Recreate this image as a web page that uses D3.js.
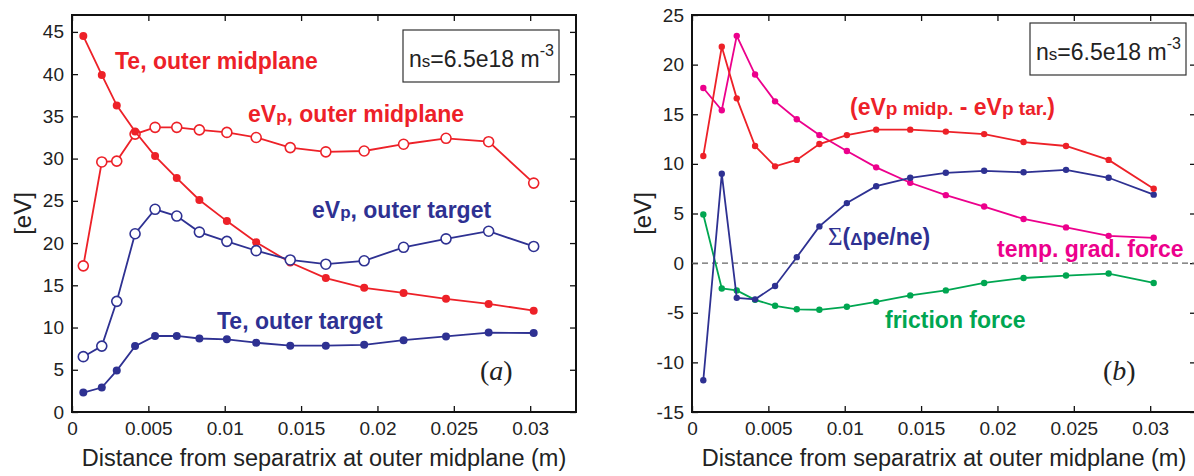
<!DOCTYPE html>
<html>
<head>
<meta charset="utf-8">
<script src="https://cdn.jsdelivr.net/npm/d3@7"></script>
<style>
  body { margin: 0; background: #fff; }
  svg { display: block; }
  .tick text { font-family: Arial, 'Liberation Sans', sans-serif; fill: #222; }
</style>
</head>
<body>
<div id="chart"></div>
<script>
// distance from separatrix (m), same grid for every curve
var xs = [0.00074, 0.00195, 0.00293, 0.00413, 0.00544, 0.00686, 0.00834, 0.01014,
          0.01206, 0.01429, 0.01662, 0.01913, 0.02171, 0.02449, 0.02728, 0.03023];

// panel (a)
var teMid = [44.5, 39.9, 36.3, 33.2, 30.3, 27.7, 25.1, 22.6, 20.1, 17.7, 15.85, 14.7, 14.1, 13.4, 12.8, 12.0];
var vpMid = [17.3, 29.6, 29.7, 32.9, 33.7, 33.7, 33.4, 33.1, 32.5, 31.3, 30.8, 30.9, 31.7, 32.4, 32.0, 27.1];
var vpTar = [6.55, 7.8, 13.1, 21.1, 24.0, 23.2, 21.3, 20.2, 19.1, 18.0, 17.5, 17.9, 19.5, 20.5, 21.4, 19.6];
var teTar = [2.3, 2.9, 4.9, 7.8, 9.0, 9.0, 8.7, 8.6, 8.2, 7.85, 7.85, 7.95, 8.5, 8.95, 9.4, 9.35];

// panel (b)
var dVp  = [10.8, 21.8, 16.6, 11.8, 9.75, 10.4, 12.0, 12.9, 13.45, 13.45, 13.25, 13.0, 12.2, 11.8, 10.4, 7.5];
var tgf  = [17.65, 15.4, 22.9, 19.0, 16.3, 14.5, 12.9, 11.3, 9.65, 8.1, 6.85, 5.7, 4.45, 3.6, 2.75, 2.55];
var sig  = [-11.8, 9.0, -3.5, -3.65, -2.3, 0.6, 3.7, 6.05, 7.75, 8.6, 9.1, 9.3, 9.15, 9.4, 8.6, 6.9];
var fric = [4.9, -2.55, -2.75, -3.7, -4.3, -4.65, -4.7, -4.4, -3.9, -3.25, -2.75, -2.0, -1.5, -1.25, -1.05, -2.0];

var xTicks = [0, 0.005, 0.01, 0.015, 0.02, 0.025, 0.03];
var xTickLabels = ['0', '0.005', '0.01', '0.015', '0.02', '0.025', '0.03'];
var yTicksA = [0, 5, 10, 15, 20, 25, 30, 35, 40, 45];
var yTicksB = [-15, -10, -5, 0, 5, 10, 15, 20, 25];

var red = '#ed2128', blue = '#2e3192', magenta = '#ec008c', green = '#00a651';
var sans = "Arial, 'Liberation Sans', sans-serif";
var serif = "'Liberation Serif', 'Times New Roman', serif";

var W = 1194, H = 476
  , pw = 504, ph = 397
  , top0 = 15;

var svg = d3.select('#chart').append('svg')
  .attr('width', W)
  .attr('height', H);

function panel(left, yDomain, yTicks) {
  var g = svg.append('g').attr('transform', 'translate(' + left + ',' + top0 + ')');
  var x = d3.scaleLinear().domain([0, 0.033]).range([0, pw]);
  var y = d3.scaleLinear().domain(yDomain).range([ph, 0]);

  g.append('g')
    .attr('transform', 'translate(0,' + ph + ')')
    .call(d3.axisBottom(x).tickValues(xTicks)
      .tickFormat(function(d, i) { return xTickLabels[i]; })
      .tickSizeInner(-6).tickSizeOuter(0).tickPadding(10))
    .call(function(a) { a.select('.domain').remove(); })
    .selectAll('text').attr('font-size', 19);
  g.append('g')
    .call(d3.axisTop(x).tickValues(xTicks).tickFormat('').tickSizeInner(-6).tickSizeOuter(0))
    .select('.domain').remove();
  g.append('g')
    .call(d3.axisLeft(y).tickValues(yTicks)
      .tickFormat(function(d) { return String(d); })
      .tickSizeInner(-6).tickSizeOuter(0).tickPadding(8))
    .call(function(a) { a.select('.domain').remove(); })
    .selectAll('text').attr('font-size', 19);
  g.append('g')
    .attr('transform', 'translate(' + pw + ',0)')
    .call(d3.axisRight(y).tickValues(yTicks).tickFormat('').tickSizeInner(-6).tickSizeOuter(0))
    .select('.domain').remove();
  g.selectAll('.tick line').attr('stroke', '#111').attr('stroke-width', 1.3);

  g.append('rect')
    .attr('width', pw).attr('height', ph)
    .attr('fill', 'none').attr('stroke', '#111').attr('stroke-width', 2);

  g.append('text')
    .attr('x', pw / 2).attr('y', 451)
    .attr('text-anchor', 'middle')
    .attr('font-family', sans).attr('font-size', 23.5).attr('fill', '#222')
    .text('Distance from separatrix at outer midplane (m)');

  return { g: g, x: x, y: y };
}

function series(p, vals, color, open, r) {
  var line = d3.line()
    .x(function(d, i) { return p.x(xs[i]); })
    .y(function(d) { return p.y(d); });
  p.g.append('path')
    .datum(vals)
    .attr('d', line)
    .attr('fill', 'none')
    .attr('stroke', color)
    .attr('stroke-width', 1.8);
  p.g.append('g').selectAll('circle')
    .data(vals)
    .enter().append('circle')
    .attr('cx', function(d, i) { return p.x(xs[i]); })
    .attr('cy', function(d) { return p.y(d); })
    .attr('r', r)
    .attr('fill', open ? '#fff' : color)
    .attr('stroke', color)
    .attr('stroke-width', open ? 1.6 : 0);
}

// parts: [text, size, dy, family]
function label(g, x, y, color, parts, weight) {
  var t = g.append('text')
    .attr('x', x).attr('y', y)
    .attr('fill', color)
    .attr('font-family', sans)
    .attr('font-weight', weight || 'bold');
  parts.forEach(function(s) {
    var ts = t.append('tspan')
      .attr('font-size', s[1])
      .text(s[0]);
    if (s[2]) ts.attr('dy', s[2]);
    if (s[3]) ts.attr('font-family', s[3]).attr('font-weight', 'normal');
  });
  return t;
}

function nsBox(g, x, y) {
  g.append('rect')
    .attr('x', x).attr('y', y)
    .attr('width', 156).attr('height', 52)
    .attr('fill', '#fff').attr('stroke', '#333').attr('stroke-width', 1.2);
  label(g, x + 6, y + 37, '#222', [['n', 23], ['s', 17], ['=6.5e18 m', 23], ['-3', 16, -11]], 'normal');
}

function yLabel(cx) {
  svg.append('text')
    .attr('transform', 'translate(' + cx + ',' + (top0 + ph / 2) + ') rotate(-90)')
    .attr('text-anchor', 'middle')
    .attr('font-family', sans).attr('font-size', 24).attr('fill', '#222')
    .text('[eV]');
}

// ---- panel (a)
var a = panel(72, [0, 47], yTicksA);
yLabel(31);
series(a, vpMid, red, true, 5);
series(a, teMid, red, false, 4);
series(a, vpTar, blue, true, 5);
series(a, teTar, blue, false, 4);

label(a.g, 43, 54, red, [['Te, outer midplane', 23]]);
label(a.g, 176, 107, red, [['eV', 23], ['p', 17], [', outer midplane', 23]]);
label(a.g, 240, 203, blue, [['eV', 23], ['p', 17], [', outer target', 23]]);
label(a.g, 145, 314, blue, [['Te, outer target', 23]]);
a.g.append('text')
  .attr('x', 408).attr('y', 365)
  .attr('font-family', serif)
  .attr('font-size', 28).attr('fill', '#222')
  .html('(<tspan font-style="italic">a</tspan>)');
nsBox(a.g, 331, 15);

// ---- panel (b)
var b = panel(692, [-15, 25], yTicksB);
yLabel(651);
b.g.append('line')
  .attr('x1', 0).attr('x2', pw)
  .attr('y1', b.y(0)).attr('y2', b.y(0))
  .attr('stroke', '#666').attr('stroke-width', 1.3)
  .attr('stroke-dasharray', '6,4');
series(b, fric, green, false, 3.2);
series(b, tgf, magenta, false, 3.2);
series(b, sig, blue, false, 3.2);
series(b, dVp, red, false, 3.2);

label(b.g, 158, 100, red, [['(eV', 23], ['p midp.', 19], [' - eV', 23], ['p tar.', 19], [')', 23]]);
label(b.g, 136, 230, blue, [['\u03a3', 25, 0, serif], ['(', 23], ['\u0394', 17], ['pe/ne)', 23]]);
label(b.g, 305, 242, magenta, [['temp. grad. force', 23]]);
label(b.g, 193, 313, green, [['friction force', 23]]);
b.g.append('text')
  .attr('x', 411).attr('y', 365)
  .attr('font-family', serif)
  .attr('font-size', 28).attr('fill', '#222')
  .html('(<tspan font-style="italic">b</tspan>)');
nsBox(b.g, 338, 8);
</script>
</body>
</html>
